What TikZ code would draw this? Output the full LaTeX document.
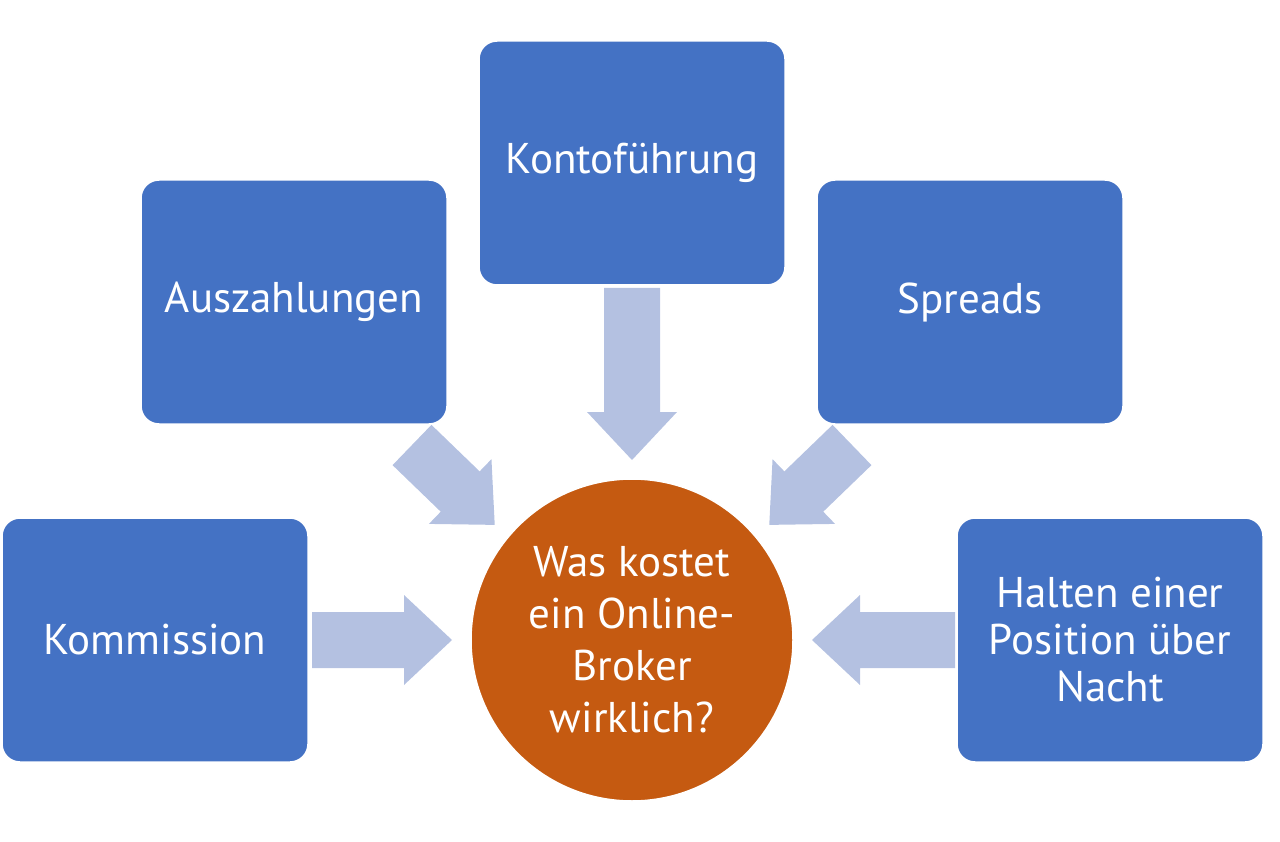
\documentclass[tikz,border=0pt]{standalone}
\usepackage{fontspec}
\setmainfont{PT Sans}
\definecolor{bx}{HTML}{4472C4}
\definecolor{ci}{HTML}{C55A11}
\definecolor{ar}{HTML}{B4C1E1}
\begin{document}
\begin{tikzpicture}[x=1pt,y=-1pt,
 box/.style={draw=white,line width=1.5pt,fill=bx,rounded corners=18pt,minimum width=306pt,minimum height=244pt,text=white,font=\fontsize{43}{47}\selectfont,align=center,inner sep=0pt},
 arrowfill/.style={fill=ar}]
\useasboundingbox (0,0) rectangle (1280,842);
\node[box] (konto) at (632,163) {Kontoführung};
\node[box] (ausz) at (294,302) {Auszahlungen};
\node[box] (spr) at (970,302) {Spreads};
\node[box] (komm) at (155,640) {Kommission};
\node[box] (halt) at (1110,640) {Halten einer\\Position über\\Nacht};
\node[circle,fill=ci,draw=white,line width=1.5pt,minimum size=322pt,text=white,font=\fontsize{43}{52}\selectfont,align=center,inner sep=0pt] (c) at (632,640) {Was kostet\\ein Online-\\Broker\\wirklich?};
\newcommand{\blockarrow}[3]{%
 \begin{scope}[shift={#1},rotate=#2]
 \fill[ar] (0,-28)--(#3-48,-28)--(#3-48,-45)--(#3,0)--(#3-48,45)--(#3-48,28)--(0,28)--cycle;
 \end{scope}}
\blockarrow{(312,640)}{0}{140}
\blockarrow{(955,640)}{180}{143}
\blockarrow{(632,288)}{-90}{172}
\blockarrow{(412,445)}{-44}{115}
\blockarrow{(852,445)}{-136}{115}
\end{tikzpicture}
\end{document}
